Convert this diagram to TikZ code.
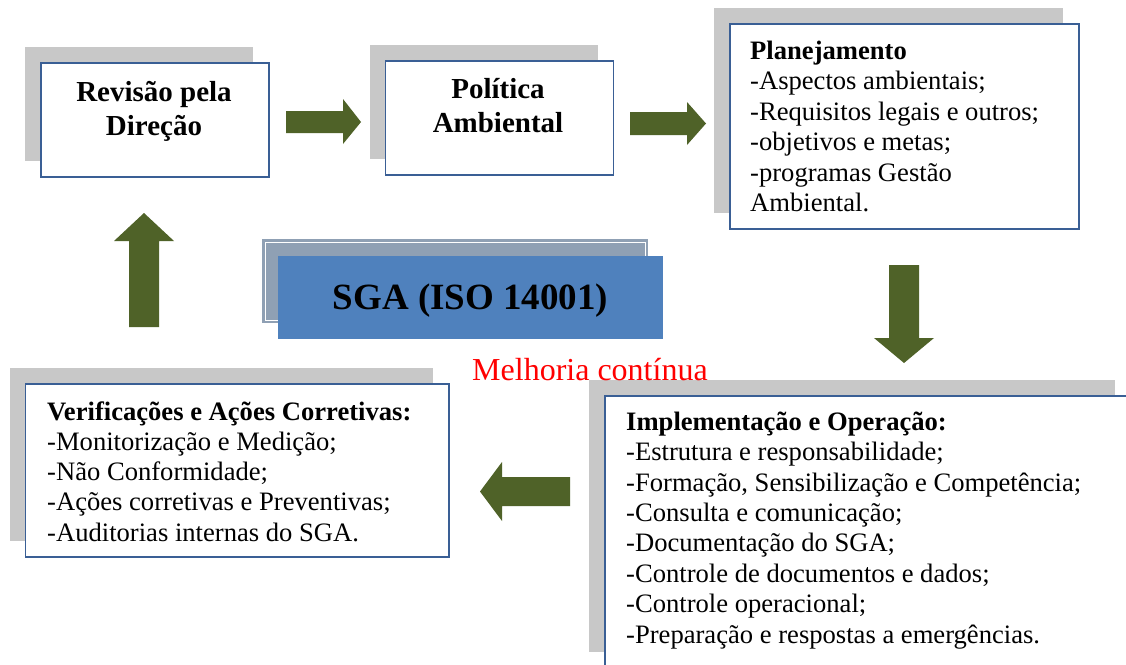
\documentclass[tikz,border=0pt]{standalone}
\usepackage{fontspec}
\setmainfont{Liberation Serif}
\usetikzlibrary{shadows,calc}
\definecolor{shadowgray}{RGB}{200,200,200}
\definecolor{boxborder}{RGB}{58,95,149}
\definecolor{arrowgreen}{RGB}{79,98,40}
\definecolor{sgablue}{RGB}{79,129,189}
\definecolor{sgagray}{RGB}{143,160,180}
\newcommand{\bodyfnt}{\fontsize{26.6}{30.4}\selectfont}
\newcommand{\titlefnt}{\fontsize{29}{34}\selectfont\bfseries}
\newcommand{\sgafnt}{\fontsize{37}{40}\selectfont\bfseries}
\newcommand{\melfnt}{\fontsize{32}{36}\selectfont}
\begin{document}
\begin{tikzpicture}[x=1pt,y=-1pt,
  box/.style={draw=boxborder, line width=1.6pt, fill=white, rectangle, inner sep=0pt, anchor=north west,
    general shadow={fill=shadowgray, shadow xshift=-15.5pt, shadow yshift=16pt}},
  txt/.style={inner sep=0pt, anchor=base west, align=left, font=\bodyfnt},
  ttl/.style={inner sep=0pt, anchor=base, align=center, font=\titlefnt},
  blockarrow/.style={fill=arrowgreen}]
\useasboundingbox (0,0) rectangle (1126,664);
\clip (0,0) rectangle (1126,664);
\fill[white] (0,0) rectangle (1126,664);

% boxes
\node[box, minimum width=228pt, minimum height=114pt] (rev) at (40,62) {};
\node[box, minimum width=228pt, minimum height=114pt] (pol) at (384.5,60) {};
\node[box, minimum width=349pt, minimum height=205pt] (plan) at (729,23) {};
\node[box, minimum width=423.5pt, minimum height=173pt] (ver) at (24.5,383) {};
\node[box, minimum width=526pt, minimum height=272pt] (imp) at (604,395) {};

% SGA
\node[fill=sgagray, minimum width=386pt, minimum height=84pt, anchor=north west, inner sep=0pt] (sgaback) at (262,239) {};
\draw[white, line width=0.8pt] ($(sgaback.north west)+(3,3)$) rectangle ($(sgaback.south east)+(-3,-3)$);
\node[fill=sgablue, minimum width=385pt, minimum height=83pt, anchor=north west, inner sep=0pt] (sga) at (278,256) {};
\node[inner sep=0pt, anchor=base, font=\sgafnt] (sgatxt) at (470.5,309) {SGA (ISO 14001)};

% texts (anchor at baseline of last line)
\node[ttl] (revtxt) at (154,135) {Revisão pela\\Direção};
\node[ttl] (poltxt) at (498,132) {Política\\Ambiental};
\node[txt] (plantxt) at (750,211.5) {\textbf{Planejamento}\\-Aspectos ambientais;\\-Requisitos legais e outros;\\-objetivos e metas;\\-programas Gestão\\Ambiental.};
\node[txt, font=\fontsize{26.6}{30.2}\selectfont] (vertxt) at (47,541) {\textbf{Verificações e Ações Corretivas:}\\-Monitorização e Medição;\\-Não Conformidade;\\-Ações corretivas e Preventivas;\\-Auditorias internas do SGA.};
\node[txt] (imptxt) at (626,643) {\textbf{Implementação e Operação:}\\-Estrutura e responsabilidade;\\-Formação, Sensibilização e Competência;\\-Consulta e comunicação;\\-Documentação do SGA;\\-Controle de documentos e dados;\\-Controle operacional;\\-Preparação e respostas a emergências.};
\node[inner sep=0pt, anchor=base west, font=\melfnt, text=red] (mel) at (472,380) {Melhoria contínua};

% block arrows
\fill[blockarrow] (286,111) -- (343,111) -- (343,99) -- (361,122) -- (343,144) -- (343,133) -- (286,133) -- cycle;
\fill[blockarrow] (630,112) -- (687,112) -- (687,102) -- (706,123.5) -- (687,145) -- (687,135) -- (630,135) -- cycle;
\fill[blockarrow] (889,265) -- (919,265) -- (919,338) -- (934,338) -- (904,363) -- (874,338) -- (889,338) -- cycle;
\fill[blockarrow] (570,477) -- (570,506) -- (502,506) -- (502,521) -- (480,491.5) -- (502,462) -- (502,477) -- cycle;
\fill[blockarrow] (129,327) -- (159,327) -- (159,241) -- (174,241) -- (144,213) -- (114,241) -- (129,241) -- cycle;
\end{tikzpicture}
\end{document}
